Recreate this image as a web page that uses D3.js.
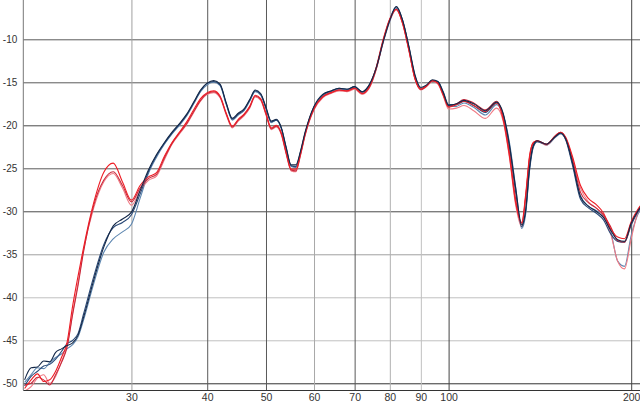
<!DOCTYPE html>
<html><head><meta charset="utf-8">
<script src="https://cdn.jsdelivr.net/npm/d3@7"></script>
<style>
html,body{margin:0;padding:0;background:#fff;}
svg{display:block;}
.tick text{font-family:"Liberation Sans Narrow","Liberation Sans",Arial,sans-serif;fill:#333;}
</style></head>
<body>
<svg id="chart" width="640" height="404"></svg>
<script>
// ---------- data ----------
const freqs = [20,20.5,21,21.5,22,22.5,23,23.5,24,24.5,25,26,27,28,29,30,31,32,33,34,35,36,37,38,39,40,41,42,43,44,45,46,47,48,49,50,51,52,53,54,55,56,57,58,60,62,64,66,68,70,72,74,76,78,80,82,84,86,88,90,92,94,96,98,100,103,106,110,115,120,123,126,129,132,134,136,138,140,145,150,153,156,160,165,170,175,180,185,190,195,200,205,210];

const blue1 = [-49.6,-48.2,-48.1,-47.4,-47.5,-46.4,-46.0,-45.6,-45.3,-44.4,-42.4,-38.0,-34.2,-31.7,-30.9,-30.1,-27.6,-25.2,-23.4,-22.0,-20.8,-19.8,-18.7,-17.3,-15.9,-15.1,-14.8,-15.2,-17.4,-19.2,-18.6,-18.1,-17.0,-15.9,-16.3,-17.9,-19.5,-19.3,-20.3,-22.6,-24.6,-24.6,-23.0,-20.8,-17.8,-16.4,-16.0,-15.7,-15.8,-15.5,-16.1,-15.3,-13.3,-10.3,-7.8,-6.2,-7.8,-10.8,-14.1,-15.6,-15.3,-14.7,-14.9,-16.2,-17.7,-17.5,-17.1,-17.5,-18.3,-17.3,-18.6,-22.3,-27.3,-31.6,-29.8,-24.8,-22.3,-21.8,-22.2,-21.3,-20.9,-21.6,-24.3,-28.3,-29.4,-30.0,-30.7,-32.2,-33.3,-33.5,-31.4,-30.0,-29.0];

const blue2 = [-49.9,-49.0,-48.2,-48.3,-47.6,-47.0,-46.6,-46.0,-45.5,-44.6,-42.7,-38.4,-34.8,-33.2,-32.4,-31.5,-28.5,-25.6,-23.7,-22.2,-21.0,-20.0,-18.9,-17.5,-16.1,-15.3,-15.0,-15.4,-17.6,-19.4,-18.8,-18.3,-17.2,-16.1,-16.5,-18.1,-19.7,-19.4,-20.4,-22.8,-24.8,-24.9,-23.2,-21.0,-17.9,-16.6,-16.1,-15.8,-15.9,-15.6,-16.2,-15.4,-13.4,-10.4,-7.9,-6.4,-7.9,-10.9,-14.2,-15.7,-15.4,-14.8,-15.0,-16.3,-17.8,-17.8,-17.4,-17.9,-18.8,-17.6,-18.8,-22.0,-27.2,-32.0,-30.3,-25.0,-22.4,-21.9,-22.3,-21.4,-21.0,-21.6,-24.4,-28.2,-29.4,-29.9,-30.5,-32.3,-35.8,-36.4,-32.8,-30.4,-29.3];

const blue3 = [-50.3,-49.2,-48.6,-48.0,-47.8,-47.2,-46.3,-45.4,-45.0,-44.2,-42.0,-37.6,-33.9,-31.9,-31.3,-30.4,-28.0,-25.4,-23.5,-22.1,-20.9,-19.9,-18.8,-17.4,-16.0,-15.1,-14.9,-15.3,-17.5,-19.3,-18.7,-18.2,-17.1,-16.0,-16.4,-18.0,-19.6,-19.4,-20.3,-22.7,-24.7,-24.8,-23.1,-20.9,-17.8,-16.5,-16.0,-15.7,-15.8,-15.5,-16.1,-15.3,-13.3,-10.2,-7.7,-6.2,-7.8,-10.9,-14.3,-15.8,-15.4,-14.8,-14.9,-16.1,-17.6,-17.6,-17.2,-17.7,-18.5,-17.4,-18.7,-22.6,-27.8,-31.8,-30.0,-25.2,-22.5,-21.9,-22.2,-21.3,-20.9,-21.7,-24.6,-28.6,-29.6,-30.2,-31.0,-32.6,-33.5,-33.6,-31.6,-30.1,-29.1];

const red1 = [-50.6,-49.6,-48.9,-49.8,-49.6,-48.6,-47.0,-45.2,-41.0,-37.5,-34.3,-29.0,-25.5,-24.4,-26.6,-28.7,-27.0,-26.0,-25.5,-23.6,-22.0,-20.8,-19.6,-18.2,-16.9,-16.2,-16.0,-16.6,-18.6,-20.1,-19.3,-18.7,-17.8,-16.5,-16.9,-18.6,-20.3,-20.0,-20.9,-23.2,-25.1,-25.1,-23.3,-21.0,-18.0,-16.7,-16.2,-15.9,-16.0,-15.7,-16.3,-15.5,-13.2,-10.0,-7.6,-6.5,-8.2,-11.3,-14.6,-15.8,-15.4,-14.8,-15.1,-16.5,-17.9,-17.6,-17.2,-17.7,-18.4,-17.4,-19.3,-23.6,-29.0,-31.3,-28.0,-23.5,-22.0,-21.8,-22.2,-21.2,-20.8,-21.4,-23.6,-27.0,-28.5,-29.2,-30.2,-32.0,-33.0,-33.2,-31.2,-29.8,-28.8];

const red2 = [-50.9,-50.4,-49.4,-49.0,-50.0,-49.2,-47.5,-45.6,-41.8,-38.3,-34.6,-29.6,-26.6,-25.6,-27.3,-29.3,-27.6,-26.4,-25.9,-24.0,-22.2,-21.0,-19.9,-18.5,-17.2,-16.4,-16.2,-16.8,-18.8,-20.3,-19.5,-18.9,-18.0,-16.7,-17.1,-18.8,-20.5,-20.2,-21.1,-23.4,-25.3,-25.4,-23.5,-21.2,-18.2,-16.8,-16.3,-16.0,-16.1,-15.8,-16.4,-15.7,-13.5,-10.3,-7.8,-6.6,-8.2,-11.2,-14.6,-15.9,-15.5,-14.9,-15.2,-16.6,-18.1,-18.0,-17.7,-18.3,-19.2,-18.0,-19.5,-23.8,-29.3,-31.8,-28.4,-23.8,-22.1,-21.8,-22.3,-21.3,-20.9,-21.5,-23.8,-27.3,-28.9,-29.6,-30.6,-32.6,-35.8,-36.7,-33.2,-30.2,-29.0];

const red3 = [-50.2,-50.0,-49.3,-49.6,-50.2,-49.0,-47.6,-45.8,-42.0,-38.6,-34.8,-29.3,-26.4,-25.4,-27.0,-28.9,-27.3,-26.2,-25.7,-23.8,-22.1,-20.9,-19.8,-18.4,-17.1,-16.3,-16.1,-16.7,-18.7,-20.2,-19.4,-18.8,-17.9,-16.6,-17.0,-18.7,-20.4,-20.1,-21.0,-23.3,-25.2,-25.3,-23.4,-21.1,-18.1,-16.7,-16.2,-15.9,-16.0,-15.7,-16.3,-15.6,-13.4,-10.2,-7.7,-6.5,-8.1,-11.2,-14.5,-15.8,-15.4,-14.8,-15.1,-16.4,-17.8,-17.5,-17.0,-17.4,-18.2,-17.2,-19.0,-23.2,-28.6,-31.5,-28.3,-23.7,-22.0,-21.8,-22.2,-21.2,-20.8,-21.5,-24.0,-27.8,-29.0,-29.6,-30.4,-31.8,-33.4,-33.6,-31.4,-29.9,-28.9];

const xTicks = [30,40,50,60,70,80,90,100,200];
const xTickLabels = ["30","40","50","60","70","80","90","100","200"];
const yTicks = [-10,-15,-20,-25,-30,-35,-40,-45,-50];
const yTickLabels = ["-10","-15","-20","-25","-30","-35","-40","-45","-50"];

const seriesList = [
  {name:"blue2", values: blue2, color:"#5d86b0"},
  {name:"red2",  values: red2,  color:"#f07a84"},
  {name:"blue3", values: blue3, color:"#2a4a78"},
  {name:"red3",  values: red3,  color:"#c8283a"},
  {name:"red1",  values: red1,  color:"#ee1c24"},
  {name:"blue1", values: blue1, color:"#142848"}
];

// ---------- layout ----------
const W = 640, H = 404;
const L = 23.3, R = 640, T = 0, B = 390;
const svg = d3.select("#chart");

const x = d3.scaleLog().domain([19.9, 206.8]).range([L, R]);
const y = d3.scaleLinear().domain([-50.78, -5.43]).range([B, T]);

// grid colours per tick
const vGridCol = {30:"#a0a0a0",40:"#5a5a5a",50:"#5a5a5a",60:"#a8a8a8",70:"#5a5a5a",80:"#b0b0b0",90:"#c0c0c0",100:"#444",200:"#444"};
const hGridCol = {"-10":"#5a5a5a","-15":"#5a5a5a","-20":"#4a4a4a","-25":"#5a5a5a","-30":"#4a4a4a","-35":"#a0a0a0","-40":"#c0c0c0","-45":"#c0c0c0","-50":"#333"};

// horizontal grid
const gy = svg.append("g").attr("transform", `translate(${L},0)`)
  .call(d3.axisLeft(y).tickValues(yTicks).tickSize(-(R - L)).tickFormat((d,i) => yTickLabels[i]).tickPadding(6));
gy.select(".domain").remove();
gy.selectAll(".tick line").attr("stroke", d => hGridCol[String(d)]).attr("stroke-width", 1);
gy.selectAll(".tick text").attr("font-size", 10);

// vertical grid
const gx = svg.append("g").attr("transform", `translate(0,${B})`)
  .call(d3.axisBottom(x).tickValues(xTicks).tickSize(-(B - T)).tickFormat((d,i) => xTickLabels[i]).tickPadding(4));
gx.select(".domain").remove();
gx.selectAll(".tick line").attr("stroke", d => vGridCol[d]).attr("stroke-width", 1);
gx.selectAll(".tick text").attr("font-size", 10.5);

// axes frame lines
svg.append("line").attr("x1", L).attr("x2", L).attr("y1", T).attr("y2", B).attr("stroke", "#777");
svg.append("line").attr("x1", L).attr("x2", R).attr("y1", B + 0.5).attr("y2", B + 0.5).attr("stroke", "#333");

// clip
svg.append("clipPath").attr("id", "plot").append("rect")
  .attr("x", L).attr("y", T).attr("width", R - L).attr("height", B - T);

const line = d3.line()
  .x((d, i) => x(freqs[i]))
  .y(d => y(d))
  .curve(d3.curveMonotoneX);

const lines = svg.append("g").attr("clip-path", "url(#plot)");
seriesList.forEach(s => {
  lines.append("path")
    .attr("d", line(s.values))
    .attr("fill", "none")
    .attr("stroke", s.color)
    .attr("stroke-width", 1.1)
    .attr("stroke-linejoin", "round");
});
</script>
</body></html>
